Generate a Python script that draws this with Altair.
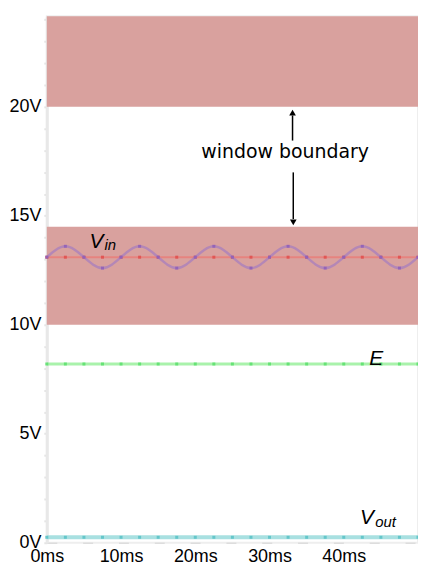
import altair as alt
import pandas as pd

# ---- data ----
t_ms = [0, 2.5, 5, 7.5, 10, 12.5, 15, 17.5, 20, 22.5, 25, 27.5, 30, 32.5, 35, 37.5, 40, 42.5, 45, 47.5, 50]
v_in = [13.1, 13.6, 13.1, 12.6, 13.1, 13.6, 13.1, 12.6, 13.1, 13.6, 13.1,
        12.6, 13.1, 13.6, 13.1, 12.6, 13.1, 13.6, 13.1, 12.6, 13.1]
v_mid = [13.1, 13.1, 13.1, 13.1, 13.1, 13.1, 13.1, 13.1, 13.1, 13.1, 13.1,
         13.1, 13.1, 13.1, 13.1, 13.1, 13.1, 13.1, 13.1, 13.1, 13.1]
e_lvl = [8.2, 8.2, 8.2, 8.2, 8.2, 8.2, 8.2, 8.2, 8.2, 8.2, 8.2,
         8.2, 8.2, 8.2, 8.2, 8.2, 8.2, 8.2, 8.2, 8.2, 8.2]
v_out = [0.25, 0.25, 0.25, 0.25, 0.25, 0.25, 0.25, 0.25, 0.25, 0.25, 0.25,
         0.25, 0.25, 0.25, 0.25, 0.25, 0.25, 0.25, 0.25, 0.25, 0.25]

band_low = [10, 20]
band_high = [14.5, 24.15]

x_ticks = [0, 10, 20, 30, 40]
y_ticks = [0, 1, 2, 3, 4, 5, 6, 7, 8, 9, 10, 11, 12, 13, 14, 15, 16, 17, 18, 19, 20, 21, 22, 23, 24]

main_text = ["window boundary"]
main_t = [32.1]
main_v = [17.63]

sym_text = ["V", "E", "V"]
sym_t = [5.76, 43.43, 42.2]
sym_v = [13.52, 8.15, 0.87]
sub_text = ["in", "out"]
sub_t = [7.77, 44.24]
sub_v = [13.42, 0.73]

arrow_t = [33.1, 33.2]
arrow_from = [18.45, 16.99]
arrow_to = [19.6, 14.85]
head_v = [19.73, 14.70]
head_shape = ["triangle-up", "triangle-down"]

# ---- scales / axes ----
FONT = "Liberation Sans"
xs = alt.Scale(domain=[0, 50], nice=False, zero=False)
ys = alt.Scale(domain=[0, 24.15], nice=False)
xaxis = alt.Axis(values=x_ticks, labelExpr="datum.value + 'ms'", title=None, grid=False,
                 ticks=False, domainColor="#dddddd", domainDash=[10, 26], domainWidth=1.5,
                 labelFontSize=18, labelFont=FONT, labelColor="black", labelPadding=5,
                 labelFlush=False, labelOverlap=False)
yaxis = alt.Axis(values=y_ticks, labelExpr="datum.value % 5 == 0 ? datum.value + 'V' : ''",
                 title=None, grid=False, tickColor="#e4e4e4", tickSize=3, tickWidth=2,
                 domainColor="#e8e8e8", domainWidth=3, labelFontSize=18, labelFont=FONT,
                 labelColor="black", labelPadding=3, labelOverlap=False)


def X(f):
    return alt.X(f, type="quantitative", scale=xs, axis=xaxis)


def Y(f):
    return alt.Y(f, type="quantitative", scale=ys, axis=yaxis)


bands = pd.DataFrame({"lo": band_low, "hi": band_high})
band_layer = alt.Chart(bands).mark_rect(color="#d9a19e", opacity=1).encode(
    x=alt.datum(0, type="quantitative", scale=xs, axis=xaxis),
    x2=alt.datum(50),
    y=Y("lo"), y2="hi")

series = pd.DataFrame({"t": t_ms, "vin": v_in, "vmid": v_mid, "e": e_lvl, "vout": v_out})


def line(field, color, width, dot, opacity=1.0, interp="linear"):
    ln = alt.Chart(series).mark_line(color=color, strokeWidth=width, opacity=opacity,
                                     interpolate=interp).encode(x=X("t"), y=Y(field))
    pt = alt.Chart(series).mark_point(shape="square", filled=True, size=9, color=dot,
                                      opacity=0.9).encode(x=X("t"), y=Y(field))
    return ln + pt


l_out = line("vout", "#a8e0e1", 4, "#5cc3c8")
l_e = line("e", "#a9f2ab", 3, "#5ee070")
l_mid = line("vmid", "#ef6f6a", 2, "#e0504f", opacity=0.6)
l_in = line("vin", "#a47cc0", 2.5, "#9060b8", opacity=0.7, interp="natural")

main_df = pd.DataFrame({"t": main_t, "v": main_v, "s": main_text})
main_layer = alt.Chart(main_df).mark_text(font="DejaVu Sans", fontSize=19, color="black",
                                           align="center", baseline="alphabetic").encode(
    x=X("t"), y=Y("v"), text="s:N")

sym_df = pd.DataFrame({"t": sym_t, "v": sym_v, "s": sym_text})
sym_layer = alt.Chart(sym_df).mark_text(font=FONT, fontSize=21, fontStyle="italic", color="black",
                                         align="left", baseline="alphabetic").encode(
    x=X("t"), y=Y("v"), text="s:N")

sub_df = pd.DataFrame({"t": sub_t, "v": sub_v, "s": sub_text})
sub_layer = alt.Chart(sub_df).mark_text(font=FONT, fontSize=15, fontStyle="italic", color="black",
                                         align="left", baseline="alphabetic").encode(
    x=X("t"), y=Y("v"), text="s:N")

arrows = pd.DataFrame({"t": arrow_t, "a": arrow_from, "b": arrow_to, "h": head_v, "shape": head_shape})
shaft = alt.Chart(arrows).mark_rule(color="black", strokeWidth=1.5).encode(
    x=X("t"), y=Y("a"), y2="b")
heads = alt.Chart(arrows).mark_point(filled=True, color="black", size=45, opacity=1).encode(
    x=X("t"), y=Y("h"), shape=alt.Shape("shape:N", scale=None, legend=None))

chart = alt.layer(band_layer, l_out, l_e, l_mid, l_in, main_layer, sym_layer, sub_layer,
                  shaft, heads).properties(
    width=373, height=529, autosize="none",
    padding={"left": 39, "top": 7, "right": 0, "bottom": 20},
    background="white"
).configure_view(stroke="#eeeeee", strokeWidth=2)

chart.save("out.html", embed_options={"renderer": "svg", "actions": False})
